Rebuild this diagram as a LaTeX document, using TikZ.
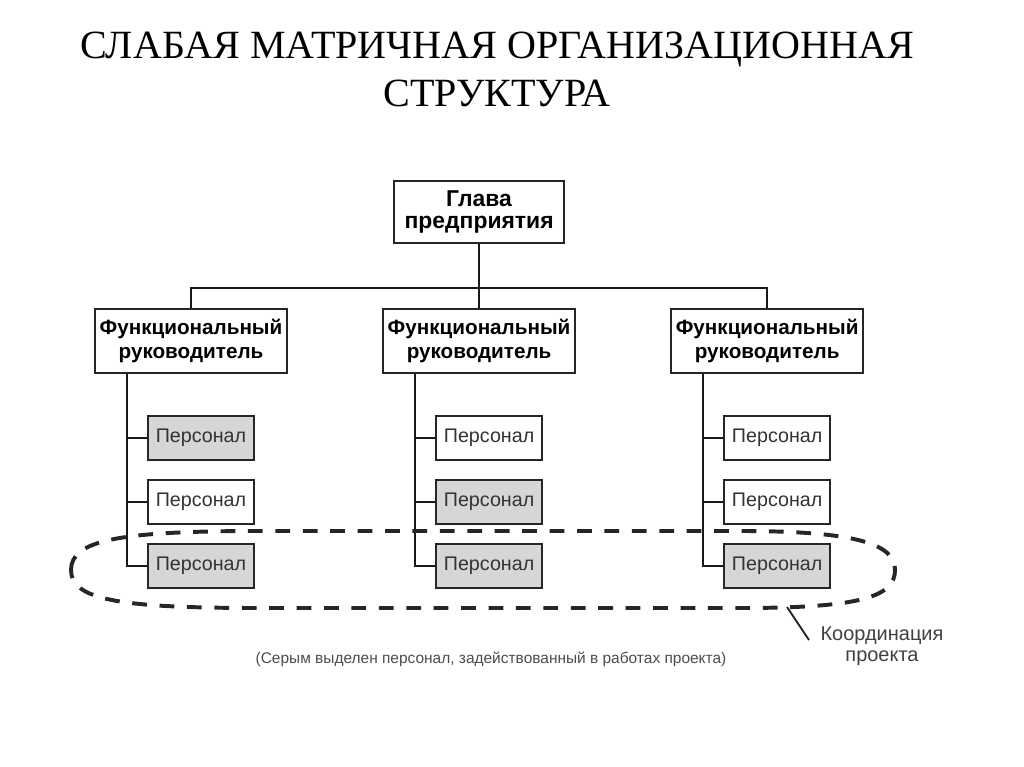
\documentclass[tikz,border=0pt]{standalone}
\usepackage{fontspec}
\setmainfont{Liberation Serif}
\setsansfont{Liberation Sans}
\usetikzlibrary{positioning}

\begin{document}
\begin{tikzpicture}
[x=0.025cm,y=-0.025cm,node distance=1.6cm,on grid,
 chief/.style={draw=black!85,line width=1.6pt,fill=white,minimum width=4.25cm,minimum height=1.55cm,
   align=center,inner sep=0pt,font=\sffamily\bfseries\fontsize{16.3}{15.4}\selectfont},
 func/.style={chief,minimum width=4.8cm,minimum height=1.6cm,font=\sffamily\bfseries\fontsize{14.7}{16.6}\selectfont},
 staff/.style={draw=black!85,line width=1.4pt,fill=white,minimum width=2.65cm,minimum height=1.1cm,
   inner sep=0pt,text=black!80,font=\sffamily\fontsize{14}{15}\selectfont},
 busy/.style={staff,fill=black!16},
 link/.style={line width=1.3pt,black!90},
 coord/.style={line width=2.8pt,dash pattern=on 10.5pt off 9pt,black!85}]
      \useasboundingbox (0,0) rectangle (1024,767);
      \node[font=\fontsize{28.5}{34}\selectfont,align=center,anchor=north,inner sep=0pt] (title) at (497,32)
        {СЛАБАЯ МАТРИЧНАЯ ОРГАНИЗАЦИОННАЯ\\СТРУКТУРА};

      \node[func] (f1) at (191,341) {Функциональный\\руководитель};
      \node[func] (f2) [right=7.2cm of f1] {Функциональный\\руководитель};
      \node[func] (f3) [right=7.2cm of f2] {Функциональный\\руководитель};
      \node[chief] (head) [above=3.225cm of f2] {Глава\\предприятия};

      \node[busy]  (p11) at (201,438) {Персонал};
      \node[staff] (p12) [below=of p11] {Персонал};
      \node[busy]  (p13) [below=of p12] {Персонал};
      \node[staff] (p21) [right=7.2cm of p11] {Персонал};
      \node[busy]  (p22) [below=of p21] {Персонал};
      \node[busy]  (p23) [below=of p22] {Персонал};
      \node[staff] (p31) [right=7.2cm of p21] {Персонал};
      \node[staff] (p32) [below=of p31] {Персонал};
      \node[busy]  (p33) [below=of p32] {Персонал};

      \coordinate (bus) at (478,288);
      \draw[link] (head.south) -- (f2.north);
      \draw[link] (f1.north) |- (bus) -| (f3.north);

      % staff hang off the trunk of each head
      \draw[link] ([xshift=-1.6cm]f1.south) |- (p13.west)
                  ([xshift=-1.6cm]f1.south) |- (p11.west)
                  ([xshift=-1.6cm]f1.south) |- (p12.west);
      \draw[link] ([xshift=-1.6cm]f2.south) |- (p23.west)
                  ([xshift=-1.6cm]f2.south) |- (p21.west)
                  ([xshift=-1.6cm]f2.south) |- (p22.west);
      \draw[link] ([xshift=-1.6cm]f3.south) |- (p33.west)
                  ([xshift=-1.6cm]f3.south) |- (p31.west)
                  ([xshift=-1.6cm]f3.south) |- (p32.west);

      % project coordination loop
      \draw[coord] (71,570) .. controls (71,540) and (120,531) .. (260,531) -- (740,531)
        .. controls (860,531) and (895,545) .. (895,570)
        .. controls (895,597) and (860,608) .. (740,608) -- (260,608)
        .. controls (120,608) and (71,600) .. (71,570) -- cycle;
      \coordinate (ell) at (787,607);
      \coordinate (tip) at (809,640);
      \node[align=center,text=black!75,font=\sffamily\fontsize{14.2}{15}\selectfont] (lbl) at (882,646)
        {Координация\\проекта};
      \draw[line width=1.3pt,black!85] (ell) -- (tip);

      \node[text=black!70,font=\sffamily\fontsize{11}{13}\selectfont] (note) at (491,659)
        {(Серым выделен персонал, задействованный в работах проекта)};
\end{tikzpicture}
\end{document}
